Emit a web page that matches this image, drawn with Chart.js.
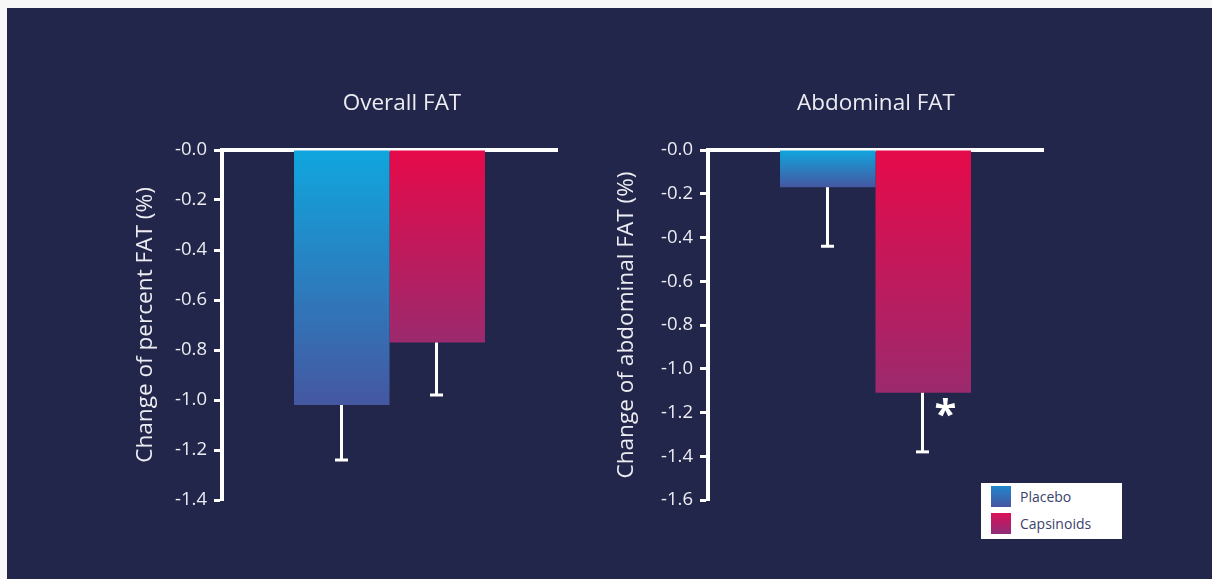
<!DOCTYPE html>
<html>
<head>
<meta charset="utf-8">
<script src="https://cdn.jsdelivr.net/npm/chart.js@4.4.1/dist/chart.umd.min.js"></script>
<style>
  html, body { margin: 0; padding: 0; background: #f7f7f7; width: 1212px; height: 579px; overflow: hidden; }
  #panel { position: absolute; left: 7px; top: 8px; width: 1205px; height: 571px; background: #22264a; }
  .wrap { position: absolute; }
  #w1 { left: 120px; top: 60px; width: 564px; height: 460px; }
  #w2 { left: 600px; top: 60px; width: 552px; height: 460px; }
  #legend { position: absolute; left: 981px; top: 483px; width: 141px; height: 56px; background: #ffffff;
            font-family: "Open Sans", sans-serif; font-size: 14px; color: #3c3f6b; }
  .item { position: absolute; left: 10px; height: 21px; line-height: 21px; }
  .sw { position: absolute; left: 0; top: 0; width: 20px; height: 21px; }
  .lab { position: absolute; left: 29px; top: 0px; white-space: nowrap; }
</style>
</head>
<body>
<div id="panel"></div>
<div class="wrap" id="w1"><canvas id="c1" width="564" height="460"></canvas></div>
<div class="wrap" id="w2"><canvas id="c2" width="552" height="460"></canvas></div>
<div id="legend"></div>
<script>
// ---- data ----
const groupTitles = ['Overall FAT', 'Abdominal FAT'];
const axisTitles = ['Change of percent FAT (%)', 'Change of abdominal FAT (%)'];
const seriesNames = ['Placebo', 'Capsinoids'];
const overallMeans = [-1.02, -0.77];          // Placebo, Capsinoids
const overallErrorEnds = [-1.24, -0.98];
const abdominalMeans = [-0.17, -1.11];
const abdominalErrorEnds = [-0.44, -1.38];
const overallSig = ['', ''];
const abdominalSig = ['', '*'];
const overallAxisMin = -1.4;
const abdominalAxisMin = -1.6;
const axisStep = 0.2;

// ---- styles ----
const seriesGradients = [['#10a6de', '#4557a1'], ['#e60a4a', '#9c2a6e']];
const legendSwatches = [['#2187cc', '#4655a1'], ['#dc1056', '#8e2d7a']];
const FONT = '"Open Sans", sans-serif';
const TEXT = '#ececf2';

function gradFill(colors) {
  return (ctx) => {
    const chart = ctx.chart;
    if (!chart.chartArea || ctx.type !== 'data' || !chart.scales.y) return colors[0];
    const y = chart.scales.y;
    const y0 = y.getPixelForValue(0);
    const y1 = y.getPixelForValue(ctx.raw);
    const g = chart.ctx.createLinearGradient(0, y0, 0, y1);
    g.addColorStop(0, colors[0]);
    g.addColorStop(1, colors[1]);
    return g;
  };
}

const errorBarsPlugin = {
  id: 'errorBars',
  afterDatasetsDraw(chart) {
    const ctx = chart.ctx;
    const y = chart.scales.y;
    chart.data.datasets.forEach((ds, i) => {
      const meta = chart.getDatasetMeta(i);
      meta.data.forEach((bar, j) => {
        const ye = y.getPixelForValue(ds.errorEnd[j]);
        const yb = bar.y;
        const x = Math.round(bar.x) - 0.5;
        ctx.save();
        ctx.strokeStyle = '#ffffff';
        ctx.lineWidth = 3;
        ctx.beginPath(); ctx.moveTo(x, yb); ctx.lineTo(x, ye); ctx.stroke();
        ctx.beginPath(); ctx.moveTo(x - 6.5, ye); ctx.lineTo(x + 6.5, ye); ctx.stroke();
        const sig = ds.sig ? ds.sig[j] : '';
        if (sig) {
          ctx.fillStyle = '#ffffff';
          ctx.font = 'bold 40px ' + FONT;
          ctx.textAlign = 'center';
          ctx.textBaseline = 'alphabetic';
          const m = ctx.measureText(sig);
          const cy = yb + 15;
          const off = (m.actualBoundingBoxAscent - m.actualBoundingBoxDescent) / 2;
          ctx.fillText(sig, x + 23, cy + off);
        }
        ctx.restore();
      });
    });
  }
};

const groupTitlePlugin = {
  id: 'groupTitle',
  afterDraw(chart, args, opts) {
    const ctx = chart.ctx;
    ctx.save();
    ctx.fillStyle = TEXT;
    ctx.font = '22.5px ' + FONT;
    ctx.textAlign = 'center';
    ctx.textBaseline = 'middle';
    ctx.fillText(opts.text, chart.width / 2, 44);
    ctx.restore();
  }
};

function makeChart(id, title, axisTitle, means, errEnds, sigs, axisMin, yWidth, titlePad, padRight, catPct) {
  const datasets = seriesNames.map((name, i) => ({
    label: name,
    data: [means[i]],
    errorEnd: [errEnds[i]],
    sig: [sigs[i]],
    backgroundColor: gradFill(seriesGradients[i]),
    borderWidth: 0,
    categoryPercentage: catPct,
    barPercentage: 1.0
  }));
  return new Chart(document.getElementById(id), {
    type: 'bar',
    data: { labels: [''], datasets },
    plugins: [errorBarsPlugin, groupTitlePlugin],
    options: {
      responsive: false,
      animation: false,
      layout: { padding: { top: 80, right: padRight, bottom: 20, left: 0 } },
      plugins: {
        legend: { display: false },
        tooltip: { enabled: false },
        title: { display: false },
        groupTitle: { text: title }
      },
      scales: {
        x: {
          position: 'top',
          grid: { display: false },
          ticks: { display: false },
          border: { color: '#ffffff', width: 4 },
          afterFit(s) { s.height = 10; }
        },
        y: {
          min: axisMin,
          max: 0,
          ticks: {
            stepSize: axisStep,
            color: TEXT,
            font: { family: FONT, size: 18.5 },
            padding: 7,
            callback: (v) => (Math.abs(v) < 1e-9 ? '-0.0' : Number(v).toFixed(1))
          },
          grid: { drawOnChartArea: false, color: '#ffffff', tickLength: 8, tickWidth: 3 },
          border: { color: '#ffffff', width: 4 },
          title: {
            display: true,
            text: axisTitle,
            color: TEXT,
            font: { family: FONT, size: 22.6 },
            padding: { top: titlePad, bottom: 0 }
          },
          afterFit(s) { s.width = yWidth; }
        }
      }
    }
  });
}

makeChart('c1', groupTitles[0], axisTitles[0], overallMeans, overallErrorEnds, overallSig,
          overallAxisMin, 102, 12.2, 127, 0.57);
makeChart('c2', groupTitles[1], axisTitles[1], abdominalMeans, abdominalErrorEnds, abdominalSig,
          abdominalAxisMin, 108, 13.2, 109, 0.57);

// legend
const legend = document.getElementById('legend');
seriesNames.forEach((name, i) => {
  const it = document.createElement('div');
  it.className = 'item';
  it.style.top = (i === 0 ? 3 : 30) + 'px';
  const sw = document.createElement('div');
  sw.className = 'sw';
  sw.style.background = 'linear-gradient(to bottom, ' + legendSwatches[i][0] + ', ' + legendSwatches[i][1] + ')';
  const lab = document.createElement('span');
  lab.className = 'lab';
  lab.textContent = name;
  it.appendChild(sw); it.appendChild(lab);
  legend.appendChild(it);
});
</script>
</body>
</html>
